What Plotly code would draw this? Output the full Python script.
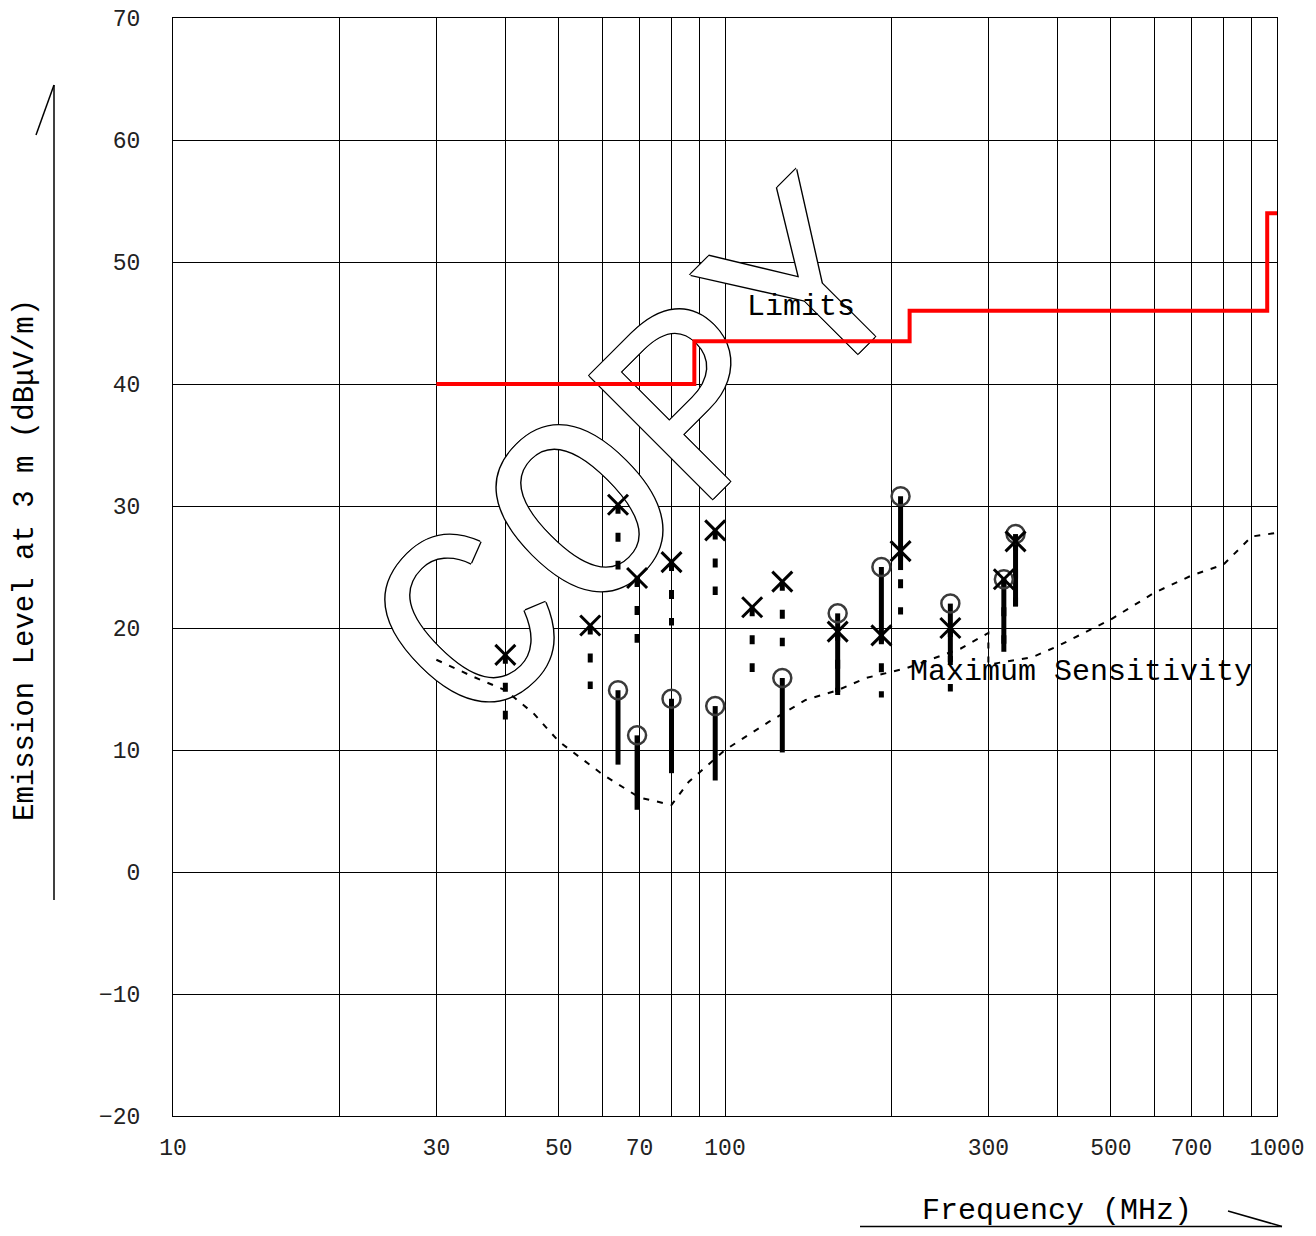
import plotly.graph_objects as go

# ---- data ----
limit_freq = [30, 88, 216, 960, 1000]
limit_level = [40, 43.5, 46, 54, 54]

sens_freq = [30, 35, 40, 45, 50, 60, 70, 80, 86, 100, 120, 140, 160, 180, 213, 267, 300, 300, 360, 400, 500, 600, 700, 800, 900, 1000]
sens_level = [17.4, 16.0, 14.9, 13.0, 10.7, 8.0, 6.1, 5.5, 7.4, 10.0, 12.3, 14.1, 14.9, 15.9, 16.7, 18.3, 19.6, 17.0, 17.6, 18.5, 20.7, 22.9, 24.3, 25.2, 27.5, 27.8]

cross_freq = [40, 57, 64, 69.3, 80, 96, 112, 127, 160, 192, 208, 256, 320, 336]
cross_top = [17.8, 20.2, 30.1, 24.1, 25.4, 28.0, 21.7, 23.8, 19.7, 19.4, 26.3, 20.0, 24.0, 27.1]
cross_bottom = [12.5, 15.0, 24.8, 18.8, 20.2, 22.7, 16.4, 18.5, 14.5, 14.3, 21.1, 14.8, 18.7, 21.8]

circle_freq = [64, 69.3, 80, 96, 127, 160, 192, 208, 256, 320, 336]
circle_top = [14.9, 11.2, 14.2, 13.6, 15.9, 21.2, 25.0, 30.8, 22.0, 24.0, 27.7]
circle_bottom = [8.8, 5.1, 8.1, 7.5, 9.8, 14.75, 18.8, 24.75, 17.2, 18.05, 21.75]

x_tick_vals = [10, 30, 50, 70, 100, 300, 500, 700, 1000]
x_minor_vals = [20, 40, 60, 80, 90, 200, 400, 600, 800, 900]

# ---- layout geometry (screen pixels; page body has an 8px margin) ----
OFF = 8
W, H = 1300, 1220
PL, PT, PR, PB = 173, 18, 1277, 1116          # plot box on screen
L, T = PL - OFF, PT - OFF
R, B = W - (PR - OFF), H - (PB - OFF)
PW, PH = PR - PL, PB - PT


def px(xs):
    return (xs - PL) / PW


def py(ys):
    return (PB - ys) / PH


def segs(xs, tops, bots):
    X, Y = [], []
    for f, t, b in zip(xs, tops, bots):
        X += [f, f, None]
        Y += [t, b, None]
    return X, Y


fig = go.Figure()

# watermark (drawn on the hidden base axes so that data traces sit above it)
wx, wy = px(648), py(464)
fig.add_trace(go.Bar(x=[wx], y=[0.02], base=[wy - 0.01], width=[0.02],
                     xaxis="x", yaxis="y", text=["COPY"], textposition="inside",
                     insidetextanchor="middle", constraintext="none", textangle=-45,
                     cliponaxis=False,
                     textfont=dict(family="Liberation Mono", size=265, color="white",
                                   shadow="1px 1px 0 #000, -1px -1px 0 #000, 1px -1px 0 #000, -1px 1px 0 #000"),
                     marker=dict(color="rgba(0,0,0,0)", line=dict(width=0)), hoverinfo="skip"))

fig.add_trace(go.Scatter(x=limit_freq, y=limit_level, mode="lines", line_shape="hv",
                         xaxis="x2", yaxis="y2",
                         line=dict(color="#ff0000", width=4), hoverinfo="skip"))
fig.add_trace(go.Scatter(x=sens_freq, y=sens_level, mode="lines", xaxis="x2", yaxis="y2",
                         line=dict(color="black", width=2, dash="6px,8px"), hoverinfo="skip"))

cx, cy = segs(cross_freq, cross_top, cross_bottom)
fig.add_trace(go.Scatter(x=cx, y=cy, mode="lines", xaxis="x2", yaxis="y2",
                         line=dict(color="black", width=5, dash="9px,19px"), hoverinfo="skip"))
ox, oy = segs(circle_freq, circle_top, circle_bottom)
fig.add_trace(go.Scatter(x=ox, y=oy, mode="lines", xaxis="x2", yaxis="y2",
                         line=dict(color="black", width=5), hoverinfo="skip"))

fig.add_trace(go.Scatter(x=circle_freq, y=circle_top, mode="markers", xaxis="x2", yaxis="y2",
                         marker=dict(symbol="circle-open", size=18, color="#3a3a3a",
                                     line=dict(color="#3a3a3a", width=2.5)), hoverinfo="skip"))
fig.add_trace(go.Scatter(x=cross_freq, y=cross_top, mode="markers", xaxis="x2", yaxis="y2",
                         marker=dict(symbol="x-thin", size=20,
                                     line=dict(color="black", width=3)), hoverinfo="skip"))

tickfont = dict(family="Liberation Mono", size=23, color="#222")
labfont = dict(family="Liberation Mono", size=30, color="black")

fig.update_layout(
    xaxis=dict(range=[0, 1], visible=False, fixedrange=True),
    yaxis=dict(range=[0, 1], visible=False, fixedrange=True),
    xaxis2=dict(type="log", range=[1, 3], overlaying="x", anchor="y2", side="bottom",
                tickvals=x_tick_vals, ticktext=[str(v) for v in x_tick_vals],
                showgrid=True, gridcolor="black", gridwidth=1,
                minor=dict(tickvals=x_minor_vals, showgrid=True, gridcolor="black", gridwidth=1, ticks=""),
                showline=True, mirror=True, linecolor="black", linewidth=1,
                ticks="", ticklabelstandoff=10, ticklabeloverflow="allow",
                tickfont=tickfont, zeroline=False),
    yaxis2=dict(range=[-20, 70], dtick=10, overlaying="y", anchor="x2", side="left",
                showgrid=True, gridcolor="black", gridwidth=1,
                showline=True, mirror=True, linecolor="black", linewidth=1,
                ticks="", ticklabelstandoff=27, ticklabeloverflow="allow",
                tickfont=tickfont, zeroline=False),
)

annotations = [
    dict(text="Limits", xref="paper", yref="paper", x=px(745), y=py(307),
         xanchor="left", yanchor="middle", showarrow=False, font=labfont),
    dict(text="Maximum Sensitivity", xref="paper", yref="paper", x=px(908), y=py(672),
         xanchor="left", yanchor="middle", showarrow=False, font=labfont),
    dict(text="Emission Level at 3 m (dBμV/m)", xref="paper", yref="paper", x=px(25), y=py(560),
         xanchor="center", yanchor="middle", textangle=-90, showarrow=False,
         font=dict(family="Liberation Mono", size=29, color="black")),
    dict(text="Frequency (MHz)", xref="paper", yref="paper", x=px(1057), y=py(1211),
         xanchor="center", yanchor="middle", showarrow=False, font=labfont),
]

shapes = [
    dict(type="line", xref="paper", yref="paper", x0=px(54), y0=py(900), x1=px(54), y1=py(85),
         line=dict(color="black", width=1.5)),
    dict(type="line", xref="paper", yref="paper", x0=px(54), y0=py(85), x1=px(36), y1=py(135),
         line=dict(color="black", width=1.5)),
    dict(type="line", xref="paper", yref="paper", x0=px(860), y0=py(1226.5), x1=px(1282), y1=py(1226.5),
         line=dict(color="black", width=1.5)),
    dict(type="line", xref="paper", yref="paper", x0=px(1228), y0=py(1211), x1=px(1282), y1=py(1226.5),
         line=dict(color="black", width=1.5)),
]

fig.update_layout(width=W, height=H,
                  margin=dict(l=L, r=R, t=T, b=B, pad=0, autoexpand=False),
                  paper_bgcolor="white", plot_bgcolor="white", showlegend=False,
                  annotations=annotations, shapes=shapes)

fig.write_html("out.html")
